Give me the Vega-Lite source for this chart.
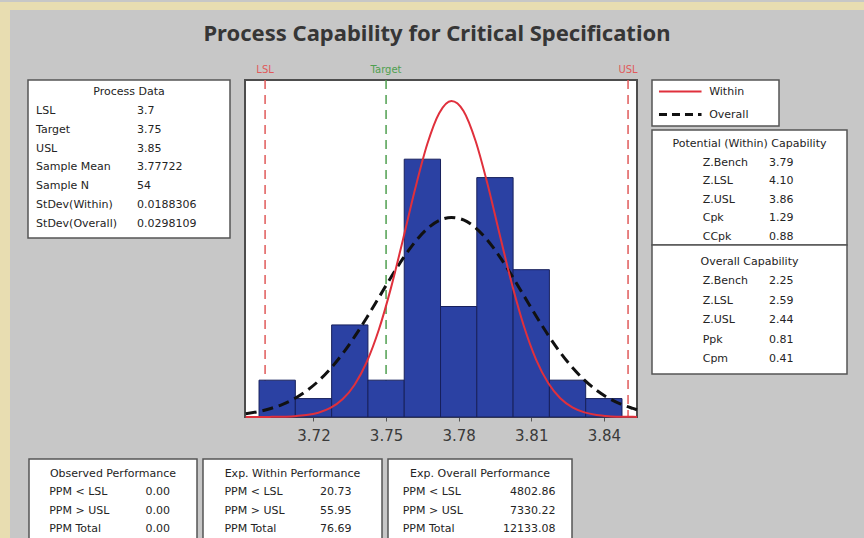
{
  "$schema": "https://vega.github.io/schema/vega-lite/v6.json",
  "background": "#c7c7c7",
  "padding": 0,
  "bounds": "flush",
  "spacing": 0,
  "config": {
    "font": "DejaVu Sans",
    "view": {"stroke": null},
    "text": {"font": "DejaVu Sans", "color": "#242424", "fontSize": 11}
  },
  "datasets": {
    "bins": [
      {"x": 3.6975, "x2": 3.7125, "count": 2},
      {"x": 3.7125, "x2": 3.7275, "count": 1},
      {"x": 3.7275, "x2": 3.7425, "count": 5},
      {"x": 3.7425, "x2": 3.7575, "count": 2},
      {"x": 3.7575, "x2": 3.7725, "count": 14},
      {"x": 3.7725, "x2": 3.7875, "count": 6},
      {"x": 3.7875, "x2": 3.8025, "count": 13},
      {"x": 3.8025, "x2": 3.8175, "count": 8},
      {"x": 3.8175, "x2": 3.8325, "count": 2},
      {"x": 3.8325, "x2": 3.8475, "count": 1}
    ],
    "specs": [
      {"name": "LSL", "x": 3.7},
      {"name": "Target", "x": 3.75},
      {"name": "USL", "x": 3.85}
    ],
    "withinCurve": [
      {"x": 3.692, "y": 0.001}, {"x": 3.697, "y": 0.002}, {"x": 3.702, "y": 0.006}, {"x": 3.707, "y": 0.016},
      {"x": 3.712, "y": 0.043}, {"x": 3.717, "y": 0.103}, {"x": 3.722, "y": 0.233}, {"x": 3.727, "y": 0.49},
      {"x": 3.732, "y": 0.959}, {"x": 3.737, "y": 1.754}, {"x": 3.742, "y": 2.986}, {"x": 3.747, "y": 4.735},
      {"x": 3.752, "y": 6.998}, {"x": 3.757, "y": 9.642}, {"x": 3.762, "y": 12.378}, {"x": 3.767, "y": 14.81},
      {"x": 3.772, "y": 16.51}, {"x": 3.777, "y": 17.16}, {"x": 3.782, "y": 16.62}, {"x": 3.787, "y": 14.99},
      {"x": 3.792, "y": 12.61}, {"x": 3.797, "y": 9.884}, {"x": 3.802, "y": 7.219}, {"x": 3.807, "y": 4.913},
      {"x": 3.812, "y": 3.116}, {"x": 3.817, "y": 1.843}, {"x": 3.822, "y": 1.016}, {"x": 3.827, "y": 0.521},
      {"x": 3.832, "y": 0.249}, {"x": 3.837, "y": 0.111}, {"x": 3.842, "y": 0.046}, {"x": 3.847, "y": 0.018},
      {"x": 3.852, "y": 0.007}, {"x": 3.8537, "y": 0.004}
    ],
    "overallCurve": [
      {"x": 3.692, "y": 0.182}, {"x": 3.697, "y": 0.289}, {"x": 3.702, "y": 0.448}, {"x": 3.707, "y": 0.675},
      {"x": 3.712, "y": 0.988}, {"x": 3.717, "y": 1.407}, {"x": 3.722, "y": 1.947}, {"x": 3.727, "y": 2.62},
      {"x": 3.732, "y": 3.428}, {"x": 3.737, "y": 4.36}, {"x": 3.742, "y": 5.392}, {"x": 3.747, "y": 6.482},
      {"x": 3.752, "y": 7.577}, {"x": 3.757, "y": 8.611}, {"x": 3.762, "y": 9.514}, {"x": 3.767, "y": 10.221},
      {"x": 3.772, "y": 10.675}, {"x": 3.777, "y": 10.84}, {"x": 3.782, "y": 10.701}, {"x": 3.787, "y": 10.272},
      {"x": 3.792, "y": 9.586}, {"x": 3.797, "y": 8.697}, {"x": 3.802, "y": 7.671}, {"x": 3.807, "y": 6.58},
      {"x": 3.812, "y": 5.486}, {"x": 3.817, "y": 4.447}, {"x": 3.822, "y": 3.505}, {"x": 3.827, "y": 2.686},
      {"x": 3.832, "y": 2.001}, {"x": 3.837, "y": 1.449}, {"x": 3.842, "y": 1.021}, {"x": 3.847, "y": 0.699},
      {"x": 3.852, "y": 0.465}, {"x": 3.8537, "y": 0.392}
    ],
    "procData": [
      {"row": 0, "head": "Process Data", "label": "", "value": ""},
      {"row": 1, "head": "", "label": "LSL", "value": "3.7"},
      {"row": 2, "head": "", "label": "Target", "value": "3.75"},
      {"row": 3, "head": "", "label": "USL", "value": "3.85"},
      {"row": 4, "head": "", "label": "Sample Mean", "value": "3.77722"},
      {"row": 5, "head": "", "label": "Sample N", "value": "54"},
      {"row": 6, "head": "", "label": "StDev(Within)", "value": "0.0188306"},
      {"row": 7, "head": "", "label": "StDev(Overall)", "value": "0.0298109"}
    ],
    "potential": [
      {"row": 0, "head": "Potential (Within) Capability", "label": "", "value": ""},
      {"row": 1, "head": "", "label": "Z.Bench", "value": "3.79"},
      {"row": 2, "head": "", "label": "Z.LSL", "value": "4.10"},
      {"row": 3, "head": "", "label": "Z.USL", "value": "3.86"},
      {"row": 4, "head": "", "label": "Cpk", "value": "1.29"},
      {"row": 5, "head": "", "label": "CCpk", "value": "0.88"}
    ],
    "overallCap": [
      {"row": 0, "head": "Overall Capability", "label": "", "value": ""},
      {"row": 1, "head": "", "label": "Z.Bench", "value": "2.25"},
      {"row": 2, "head": "", "label": "Z.LSL", "value": "2.59"},
      {"row": 3, "head": "", "label": "Z.USL", "value": "2.44"},
      {"row": 4, "head": "", "label": "Ppk", "value": "0.81"},
      {"row": 5, "head": "", "label": "Cpm", "value": "0.41"}
    ],
    "obsPerf": [
      {"row": 0, "head": "Observed Performance", "label": "", "value": ""},
      {"row": 1, "head": "", "label": "PPM < LSL", "value": "0.00"},
      {"row": 2, "head": "", "label": "PPM > USL", "value": "0.00"},
      {"row": 3, "head": "", "label": "PPM Total", "value": "0.00"}
    ],
    "withinPerf": [
      {"row": 0, "head": "Exp. Within Performance", "label": "", "value": ""},
      {"row": 1, "head": "", "label": "PPM < LSL", "value": "20.73"},
      {"row": 2, "head": "", "label": "PPM > USL", "value": "55.95"},
      {"row": 3, "head": "", "label": "PPM Total", "value": "76.69"}
    ],
    "overallPerf": [
      {"row": 0, "head": "Exp. Overall Performance", "label": "", "value": ""},
      {"row": 1, "head": "", "label": "PPM < LSL", "value": "4802.86"},
      {"row": 2, "head": "", "label": "PPM > USL", "value": "7330.22"},
      {"row": 3, "head": "", "label": "PPM Total", "value": "12133.08"}
    ],
    "legendItems": [
      {"series": "Within"},
      {"series": "Overall"}
    ],
    "titleText": [
      {"t": "Process Capability for Critical Specification"}
    ],
    "blank": [{}]
  },
  "hconcat": [
    {
      "width": 10, "height": 538,
      "view": {"fill": "#e8ddb1", "stroke": null},
      "data": {"name": "blank"},
      "mark": {"type": "text", "text": ""}
    },
    {
      "bounds": "flush",
      "spacing": 0,
      "vconcat": [
        {
          "width": 854, "height": 8,
          "view": {"fill": "#e8ddb1", "stroke": null},
          "data": {"name": "blank"},
          "mark": {"type": "text", "text": ""}
        },
        {
          "width": 854, "height": 70,
          "data": {"name": "titleText"},
          "mark": {"type": "text", "font": "Noto Sans", "fontSize": 22, "fontWeight": "bold", "color": "#363636", "baseline": "middle"},
          "encoding": {
            "x": {"field": "t", "type": "nominal", "axis": null},
            "y": {"field": "t", "type": "nominal", "axis": null, "scale": {"align": 0.343}},
            "text": {"field": "t"}
          }
        },
        {
          "bounds": "flush",
          "spacing": 15,
          "hconcat": [
            {
              "width": 3, "height": 10,
              "data": {"name": "blank"},
              "mark": {"type": "text", "text": ""}
            },
            {
              "width": 202, "height": 158,
              "view": {"fill": "white", "stroke": "#555555", "strokeWidth": 1.5},
              "data": {"name": "procData"},
              "encoding": {"y": {"field": "row", "type": "ordinal", "axis": null, "scale": {"type": "point", "padding": 0.69, "align": 0.46}}},
              "layer": [
                {"mark": {"type": "text", "align": "center", "baseline": "middle"},
                 "encoding": {"x": {"datum": 0.5, "type": "quantitative", "scale": {"domain": [0, 1]}, "axis": null}, "text": {"field": "head"}}},
                {"mark": {"type": "text", "align": "left", "baseline": "middle"},
                 "encoding": {"x": {"datum": 0.04, "type": "quantitative"}, "text": {"field": "label"}}},
                {"mark": {"type": "text", "align": "left", "baseline": "middle"},
                 "encoding": {"x": {"datum": 0.54, "type": "quantitative"}, "text": {"field": "value"}}}
              ]
            },
            {
              "width": 392, "height": 337,
              "view": {"fill": "white", "stroke": "#4d4d4d", "strokeWidth": 2},
              "encoding": {
                "x": {
                  "field": "x", "type": "quantitative",
                  "scale": {"domain": [3.6917, 3.8537], "nice": false, "zero": false},
                  "axis": {"values": [3.72, 3.75, 3.78, 3.81, 3.84], "format": ".2f", "title": null, "grid": false, "domain": false,
                           "labelFontSize": 15, "labelColor": "#3a3a3a", "labelPadding": 7, "tickSize": 4, "tickColor": "#555555", "labelFont": "DejaVu Sans"}
                }
              },
              "layer": [
                {
                  "data": {"name": "specs"},
                  "mark": {"type": "rule", "strokeDash": [9, 6], "strokeWidth": 1.5},
                  "encoding": {
                    "color": {"field": "name", "type": "nominal", "scale": {"domain": ["LSL", "Target", "USL"], "range": ["#e05a5a", "#4f9f4f", "#e05a5a"]}, "legend": null}
                  }
                },
                {
                  "data": {"name": "bins"},
                  "mark": {"type": "rect", "fill": "#2b41a3", "stroke": "#17205c", "strokeWidth": 1},
                  "encoding": {
                    "x2": {"field": "x2"},
                    "y": {"field": "count", "type": "quantitative", "scale": {"domain": [0, 18.3], "nice": false, "zero": true}, "axis": null},
                    "y2": {"datum": 0}
                  }
                },
                {
                  "data": {"name": "overallCurve"},
                  "mark": {"type": "line", "color": "#111111", "strokeWidth": 3, "strokeDash": [11, 6], "interpolate": "monotone"},
                  "encoding": {"y": {"field": "y", "type": "quantitative"}}
                },
                {
                  "data": {"name": "withinCurve"},
                  "mark": {"type": "line", "color": "#e0303c", "strokeWidth": 2, "interpolate": "monotone"},
                  "encoding": {"y": {"field": "y", "type": "quantitative"}}
                },
                {
                  "data": {"name": "specs"},
                  "mark": {"type": "text", "fontSize": 10, "baseline": "middle"},
                  "encoding": {
                    "y": {"datum": 18.85, "type": "quantitative"},
                    "text": {"field": "name"},
                    "color": {"field": "name", "type": "nominal", "legend": null}
                  }
                }
              ]
            },
            {
              "bounds": "flush",
              "spacing": 4,
              "vconcat": [
                {
                  "width": 127, "height": 46,
                  "view": {"fill": "white", "stroke": "#555555", "strokeWidth": 1.5},
                  "data": {"name": "legendItems"},
                  "encoding": {"y": {"field": "series", "type": "nominal", "axis": null, "scale": {"domain": ["Within", "Overall"]}}},
                  "layer": [
                    {
                      "transform": [{"filter": "datum.series === 'Within'"}],
                      "mark": {"type": "rule", "strokeWidth": 2, "color": "#e0303c"},
                      "encoding": {
                        "x": {"datum": 0.055, "type": "quantitative", "scale": {"domain": [0, 1]}, "axis": null},
                        "x2": {"datum": 0.39}
                      }
                    },
                    {
                      "transform": [{"filter": "datum.series === 'Overall'"}],
                      "mark": {"type": "rule", "strokeWidth": 3, "color": "#111111", "strokeDash": [8, 5]},
                      "encoding": {
                        "x": {"datum": 0.055, "type": "quantitative"},
                        "x2": {"datum": 0.39}
                      }
                    },
                    {
                      "mark": {"type": "text", "align": "left", "baseline": "middle"},
                      "encoding": {
                        "x": {"datum": 0.45, "type": "quantitative"},
                        "text": {"field": "series"}
                      }
                    }
                  ]
                },
                {
                  "bounds": "flush",
                  "spacing": 0,
                  "vconcat": [
                    {
                      "width": 195, "height": 115,
                      "view": {"fill": "white", "stroke": "#555555", "strokeWidth": 1.5},
                      "data": {"name": "potential"},
                      "encoding": {"y": {"field": "row", "type": "ordinal", "axis": null, "scale": {"type": "point", "padding": 0.59, "align": 0.64}}},
                      "layer": [
                        {"mark": {"type": "text", "align": "center", "baseline": "middle"},
                         "encoding": {"x": {"datum": 0.5, "type": "quantitative", "scale": {"domain": [0, 1]}, "axis": null}, "text": {"field": "head"}}},
                        {"mark": {"type": "text", "align": "left", "baseline": "middle"},
                         "encoding": {"x": {"datum": 0.26, "type": "quantitative"}, "text": {"field": "label"}}},
                        {"mark": {"type": "text", "align": "left", "baseline": "middle"},
                         "encoding": {"x": {"datum": 0.6, "type": "quantitative"}, "text": {"field": "value"}}}
                      ]
                    },
                    {
                      "width": 195, "height": 129,
                      "view": {"fill": "white", "stroke": "#555555", "strokeWidth": 1.5},
                      "data": {"name": "overallCap"},
                      "encoding": {"y": {"field": "row", "type": "ordinal", "axis": null, "scale": {"type": "point", "padding": 0.825, "align": 0.53}}},
                      "layer": [
                        {"mark": {"type": "text", "align": "center", "baseline": "middle"},
                         "encoding": {"x": {"datum": 0.5, "type": "quantitative", "scale": {"domain": [0, 1]}, "axis": null}, "text": {"field": "head"}}},
                        {"mark": {"type": "text", "align": "left", "baseline": "middle"},
                         "encoding": {"x": {"datum": 0.26, "type": "quantitative"}, "text": {"field": "label"}}},
                        {"mark": {"type": "text", "align": "left", "baseline": "middle"},
                         "encoding": {"x": {"datum": 0.6, "type": "quantitative"}, "text": {"field": "value"}}}
                      ]
                    }
                  ]
                }
              ]
            }
          ]
        },
        {
          "width": 10, "height": 379,
          "data": {"name": "blank"},
          "mark": {"type": "text", "text": ""}
        },
        {
          "bounds": "flush",
          "spacing": 6,
          "hconcat": [
            {
              "width": 13, "height": 10,
              "data": {"name": "blank"},
              "mark": {"type": "text", "text": ""}
            },
            {
              "width": 168, "height": 81,
              "view": {"fill": "white", "stroke": "#555555", "strokeWidth": 1.5},
              "data": {"name": "obsPerf"},
              "encoding": {"y": {"field": "row", "type": "ordinal", "axis": null, "scale": {"type": "point", "padding": 0.71, "align": 0.58}}},
              "layer": [
                {"mark": {"type": "text", "align": "center", "baseline": "middle"},
                 "encoding": {"x": {"datum": 0.5, "type": "quantitative", "scale": {"domain": [0, 1]}, "axis": null}, "text": {"field": "head"}}},
                {"mark": {"type": "text", "align": "left", "baseline": "middle"},
                 "encoding": {"x": {"datum": 0.12, "type": "quantitative"}, "text": {"field": "label"}}},
                {"mark": {"type": "text", "align": "right", "baseline": "middle"},
                 "encoding": {"x": {"datum": 0.84, "type": "quantitative"}, "text": {"field": "value"}}}
              ]
            },
            {
              "width": 179, "height": 81,
              "view": {"fill": "white", "stroke": "#555555", "strokeWidth": 1.5},
              "data": {"name": "withinPerf"},
              "encoding": {"y": {"field": "row", "type": "ordinal", "axis": null, "scale": {"type": "point", "padding": 0.71, "align": 0.58}}},
              "layer": [
                {"mark": {"type": "text", "align": "center", "baseline": "middle"},
                 "encoding": {"x": {"datum": 0.5, "type": "quantitative", "scale": {"domain": [0, 1]}, "axis": null}, "text": {"field": "head"}}},
                {"mark": {"type": "text", "align": "left", "baseline": "middle"},
                 "encoding": {"x": {"datum": 0.12, "type": "quantitative"}, "text": {"field": "label"}}},
                {"mark": {"type": "text", "align": "right", "baseline": "middle"},
                 "encoding": {"x": {"datum": 0.83, "type": "quantitative"}, "text": {"field": "value"}}}
              ]
            },
            {
              "width": 184, "height": 81,
              "view": {"fill": "white", "stroke": "#555555", "strokeWidth": 1.5},
              "data": {"name": "overallPerf"},
              "encoding": {"y": {"field": "row", "type": "ordinal", "axis": null, "scale": {"type": "point", "padding": 0.71, "align": 0.58}}},
              "layer": [
                {"mark": {"type": "text", "align": "center", "baseline": "middle"},
                 "encoding": {"x": {"datum": 0.5, "type": "quantitative", "scale": {"domain": [0, 1]}, "axis": null}, "text": {"field": "head"}}},
                {"mark": {"type": "text", "align": "left", "baseline": "middle"},
                 "encoding": {"x": {"datum": 0.08, "type": "quantitative"}, "text": {"field": "label"}}},
                {"mark": {"type": "text", "align": "right", "baseline": "middle"},
                 "encoding": {"x": {"datum": 0.91, "type": "quantitative"}, "text": {"field": "value"}}}
              ]
            }
          ]
        }
      ]
    }
  ]
}
